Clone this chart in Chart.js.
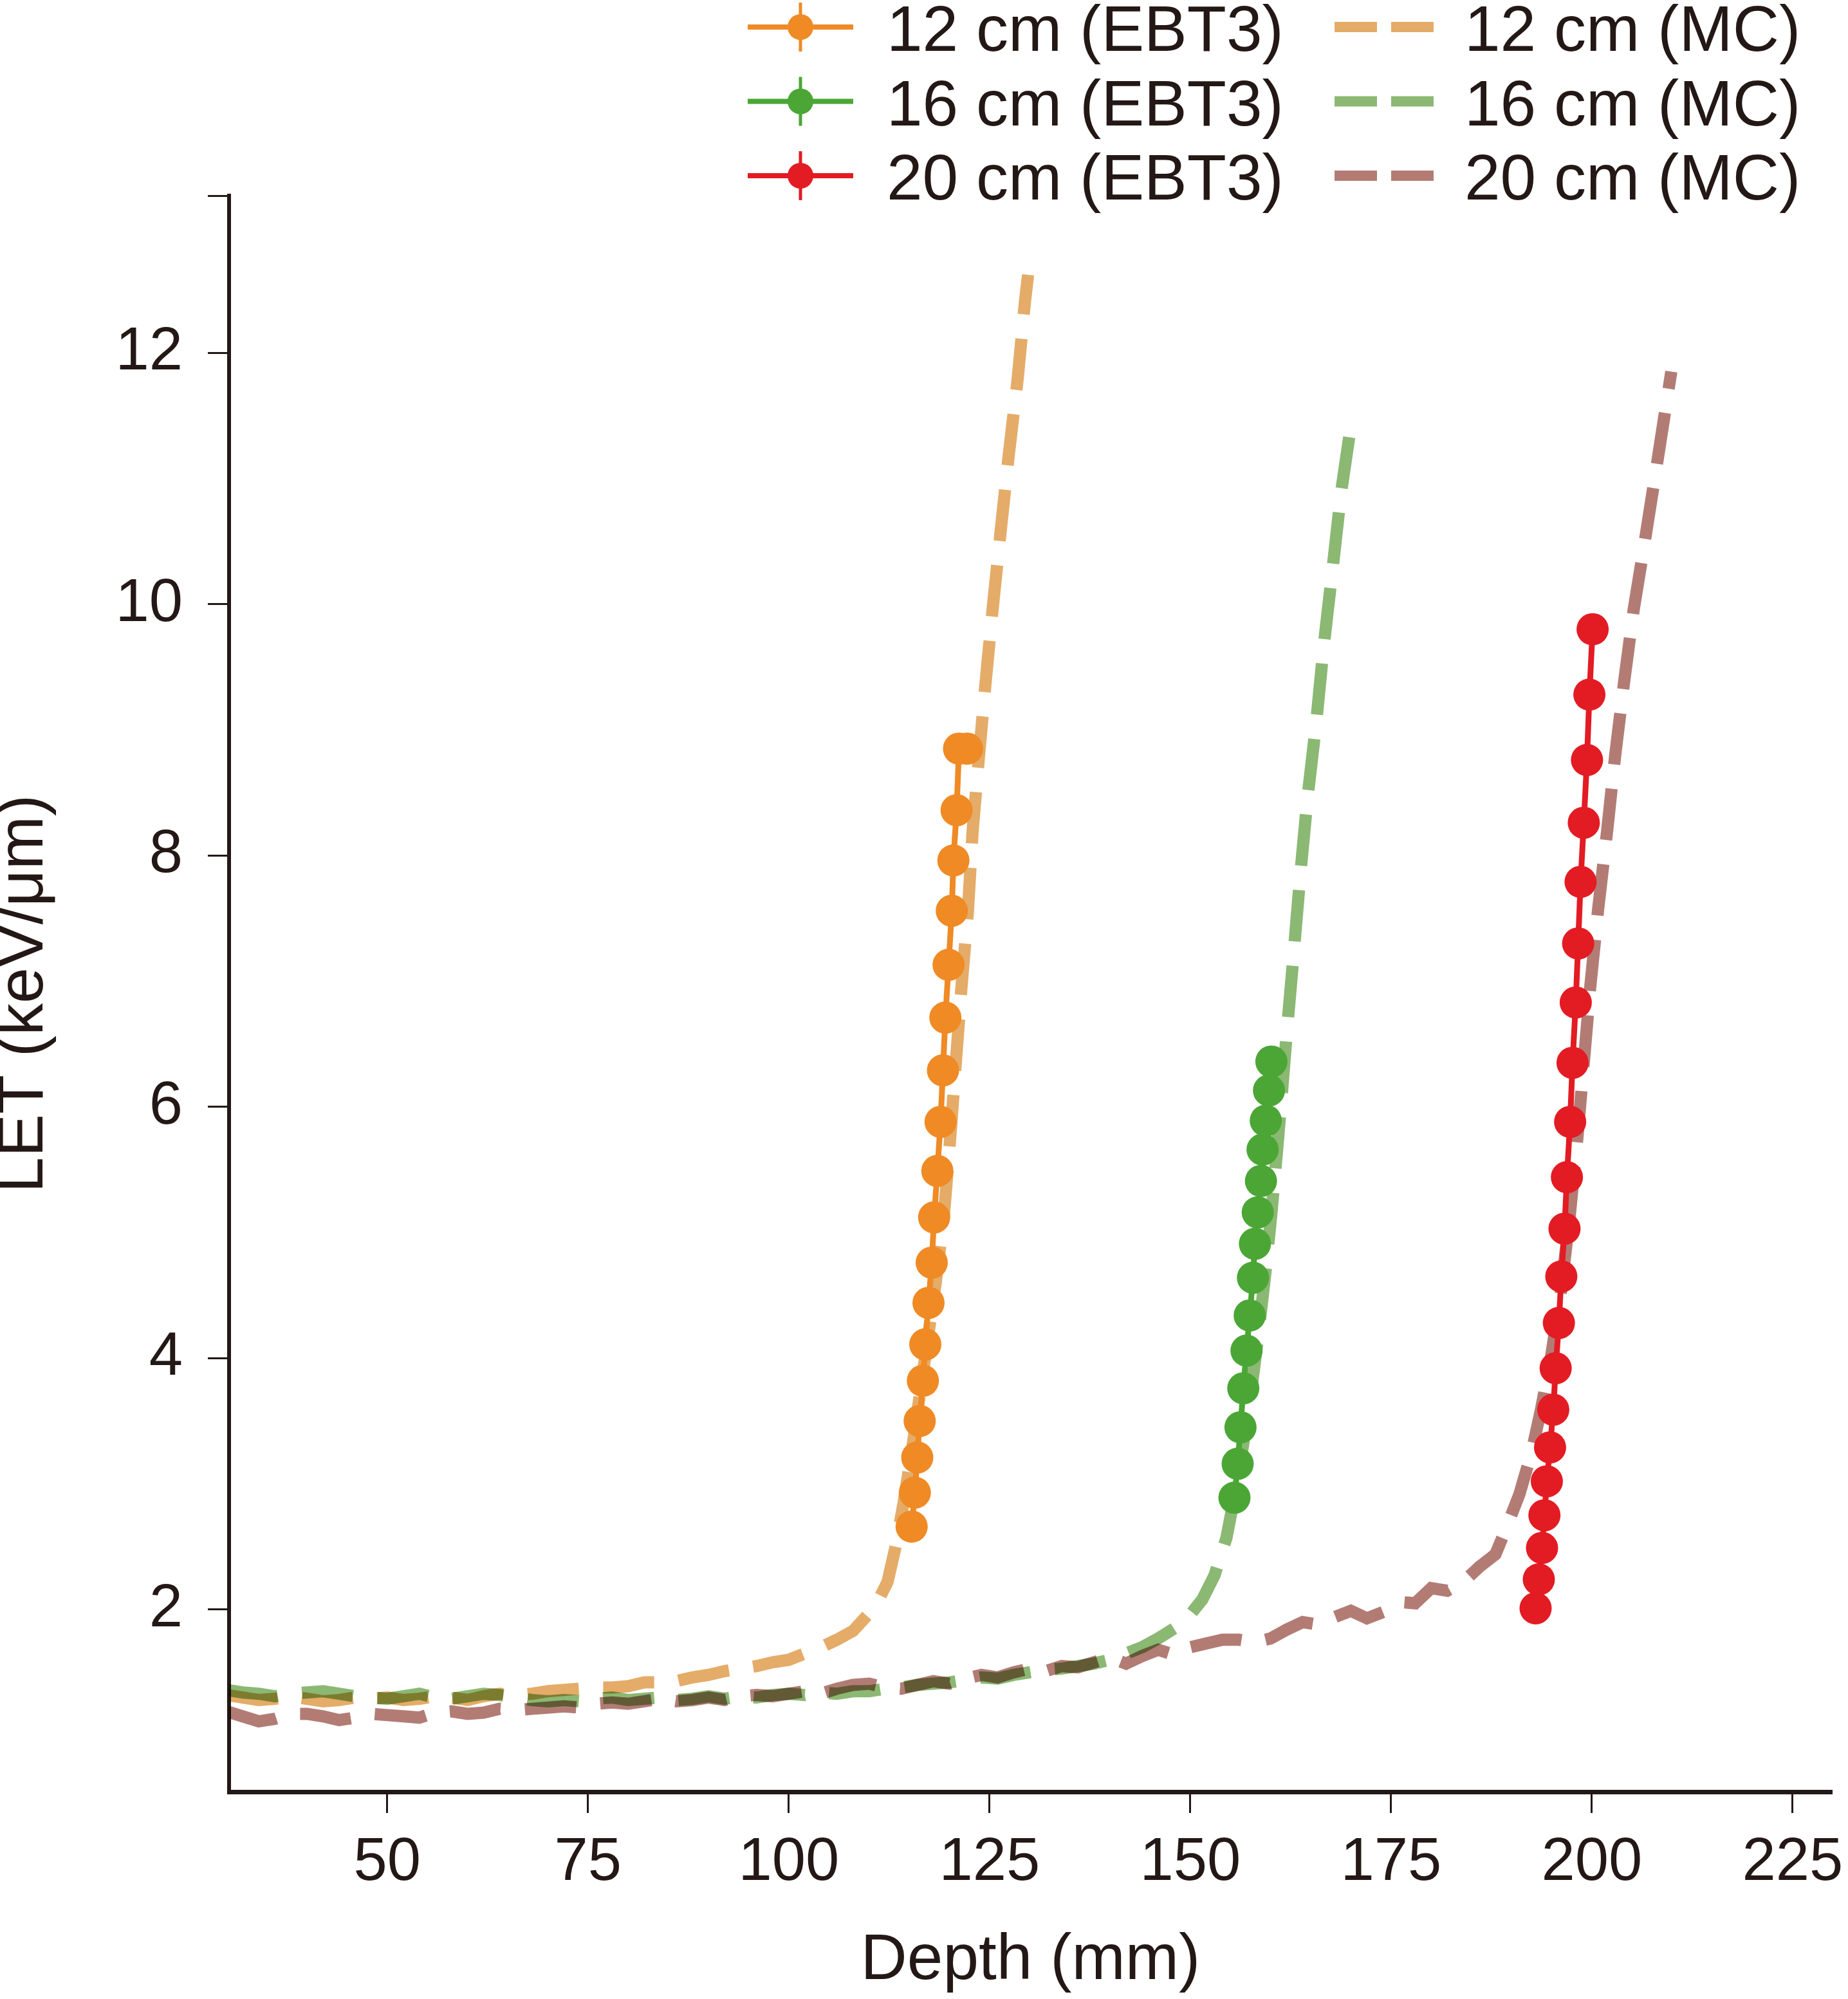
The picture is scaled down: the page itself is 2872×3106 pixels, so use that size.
<!DOCTYPE html>
<html>
<head>
<meta charset="utf-8">
<script src="https://cdn.jsdelivr.net/npm/chart.js@4.4.1/dist/chart.umd.min.js"></script>
<style>
  html, body { margin: 0; padding: 0; background: #fff; }
  #wrap { width: 2872px; height: 3106px; }
</style>
</head>
<body>
<div id="wrap"><canvas id="letChart" width="2872" height="3106"></canvas></div>
<script>
// EBT3 film points (depth in mm, LET in keV/um)
const ebt12Depth = [115.3, 115.7, 116.0, 116.3, 116.7, 117.0, 117.4, 117.8, 118.1, 118.5, 118.9, 119.2, 119.5, 119.9, 120.3, 120.5, 120.9, 121.2, 122.2];
const ebt12Let = [2.66, 2.93, 3.21, 3.50, 3.82, 4.11, 4.44, 4.76, 5.12, 5.49, 5.88, 6.29, 6.71, 7.13, 7.56, 7.96, 8.36, 8.85, 8.85];

const ebt16Depth = [155.5, 155.9, 156.25, 156.6, 157.0, 157.4, 157.8, 158.05, 158.4, 158.8, 159.0, 159.4, 159.8, 160.1];
const ebt16Let = [2.89, 3.16, 3.45, 3.76, 4.06, 4.34, 4.64, 4.91, 5.16, 5.41, 5.66, 5.89, 6.13, 6.36];

const ebt20Depth = [193.0, 193.4, 193.8, 194.1, 194.4, 194.8, 195.2, 195.5, 195.9, 196.2, 196.6, 196.9, 197.3, 197.6, 198.0, 198.3, 198.6, 199.0, 199.4, 199.7, 200.1];
const ebt20Let = [2.01, 2.24, 2.49, 2.75, 3.02, 3.29, 3.59, 3.92, 4.28, 4.65, 5.03, 5.44, 5.88, 6.35, 6.83, 7.30, 7.79, 8.26, 8.76, 9.28, 9.80];

// Monte Carlo curves
const mc12Depth = [30, 32, 34, 36, 38, 40, 42, 44, 46, 48, 50, 52, 54, 56, 58, 60, 62, 64, 66, 68, 70, 72, 74, 76, 78, 80, 82, 84, 86, 88, 90, 92, 94, 96, 98, 100, 102, 104, 106, 108, 110,
  111.2, 112.3, 113.3, 114.3, 115.3, 116.3, 117.3, 118.3, 119.3, 120.1, 120.8, 121.5, 122.3, 122.9, 123.7, 124.5, 125.4, 126.4, 127.4, 128.5, 129.4, 129.8];
const mc12Let = [1.32, 1.30, 1.28, 1.29, 1.31, 1.29, 1.27, 1.28, 1.30, 1.29, 1.30, 1.28, 1.29, 1.31, 1.30, 1.28, 1.31, 1.33, 1.32, 1.33, 1.35, 1.36, 1.37, 1.38, 1.38, 1.39, 1.42, 1.42, 1.43, 1.46, 1.48, 1.51, 1.53, 1.55, 1.58, 1.60, 1.65, 1.70, 1.76, 1.83, 1.97,
  2.08, 2.22, 2.50, 2.85, 3.25, 3.70, 4.15, 4.60, 5.12, 5.75, 6.35, 6.95, 7.55, 8.20, 8.80, 9.37, 9.97, 10.59, 11.19, 11.79, 12.40, 12.62];

const mc16Depth = [30, 32, 34, 36, 38, 40, 42, 44, 46, 48, 50, 52, 54, 56, 58, 60, 62, 64, 66, 68, 70, 72, 74, 76, 78, 80, 82, 84, 86, 88, 90, 92, 94, 96, 98, 100,
  102, 104, 106, 108, 110, 112, 114, 116, 118, 120, 122, 124, 126, 128, 130, 132, 134, 136, 138, 140, 142, 144, 146, 148, 150,
  151.5, 153, 154.5, 155.5, 156.5, 157.5, 158.4, 159.3, 160.1, 160.8, 161.4, 162.0, 162.9, 163.7, 164.6, 165.7, 166.6, 167.7, 168.8, 170.0];
const mc16Let = [1.36, 1.34, 1.33, 1.31, 1.33, 1.34, 1.35, 1.33, 1.31, 1.30, 1.29, 1.31, 1.33, 1.30, 1.29, 1.31, 1.33, 1.32, 1.30, 1.28, 1.27, 1.28, 1.27, 1.29, 1.30, 1.28, 1.29, 1.30, 1.28, 1.29, 1.31, 1.29, 1.31, 1.30, 1.32, 1.33,
  1.32, 1.34, 1.33, 1.35, 1.35, 1.37, 1.38, 1.40, 1.41, 1.42, 1.44, 1.46, 1.45, 1.48, 1.50, 1.52, 1.53, 1.55, 1.57, 1.60, 1.65, 1.70, 1.77, 1.85, 1.96,
  2.08, 2.27, 2.57, 2.90, 3.28, 3.70, 4.15, 4.65, 5.15, 5.65, 6.10, 6.58, 7.24, 7.85, 8.46, 9.07, 9.66, 10.27, 10.90, 11.42];

const mc20Depth = [30, 32, 34, 36, 38, 40, 42, 44, 46, 48, 50, 52, 54, 56, 58, 60, 62, 64, 66, 68, 70, 72, 74, 76, 78, 80, 82, 84, 86, 88,
  90, 92, 94, 96, 98, 100, 102, 104, 106, 108, 110, 112, 114, 116, 118, 120, 122, 124, 126, 128, 130, 132, 134, 136, 138, 140, 142, 144, 146, 148,
  150, 152, 154, 156, 158, 160, 162, 164, 166, 168, 170, 172, 174, 176, 178, 180, 182, 184, 186, 188,
  189.3, 191.0, 192.5, 193.7, 194.9, 196.1, 197.2, 198.2, 199.0, 199.8, 200.8, 201.9, 202.9, 204.0, 205.2, 206.6, 208.2, 209.9];
const mc20Let = [1.19, 1.15, 1.11, 1.13, 1.17, 1.17, 1.15, 1.12, 1.14, 1.17, 1.16, 1.15, 1.14, 1.18, 1.19, 1.17, 1.18, 1.21, 1.20, 1.21, 1.22, 1.23, 1.22, 1.25, 1.26, 1.25, 1.27, 1.29, 1.27, 1.28,
  1.30, 1.28, 1.31, 1.32, 1.31, 1.33, 1.35, 1.33, 1.37, 1.40, 1.41, 1.38, 1.37, 1.40, 1.43, 1.41, 1.45, 1.48, 1.46, 1.50, 1.53, 1.51, 1.55, 1.54, 1.58, 1.62, 1.57, 1.63, 1.68, 1.64,
  1.70, 1.73, 1.76, 1.76, 1.74, 1.77, 1.84, 1.90, 1.88, 1.94, 1.99, 1.93, 1.98, 2.06, 2.05, 2.17, 2.15, 2.22, 2.34, 2.44,
  2.64, 2.92, 3.25, 3.60, 4.00, 4.50, 5.10, 5.75, 6.35, 6.95, 7.58, 8.19, 8.79, 9.37, 9.95, 10.50, 11.15, 11.85];

// axes
const xTicks = [50, 75, 100, 125, 150, 175, 200, 225];
const yTicks = [2, 4, 6, 8, 10, 12];
const xMin = 30.3, xMax = 229.9;
const yMin = 0.55, yMax = 13.25;

const ebtLabels = ["12 cm (EBT3)", "16 cm (EBT3)", "20 cm (EBT3)"];
const mcLabels = ["12 cm (MC)", "16 cm (MC)", "20 cm (MC)"];

const ink = "#231815";
const ebtColors = ["#EF8A25", "#4BA636", "#E31B23"];
const mcColors = ["#E4AC68", "#8BB873", "#B27C75"];
const sans = "'Liberation Sans', Arial, sans-serif";

const toPoints = (xs, ys) => xs.map((x, i) => ({ x: x, y: ys[i] }));

const ebtSets = [[ebt12Depth, ebt12Let], [ebt16Depth, ebt16Let], [ebt20Depth, ebt20Let]].map((d, i) => ({
  label: ebtLabels[i],
  data: toPoints(d[0], d[1]),
  borderColor: ebtColors[i],
  backgroundColor: ebtColors[i],
  borderWidth: 9,
  pointRadius: 25,
  pointHoverRadius: 25,
  pointBorderWidth: 0,
  tension: 0
}));

const mcSets = [[mc12Depth, mc12Let], [mc16Depth, mc16Let], [mc20Depth, mc20Let]].map((d, i) => ({
  label: mcLabels[i],
  data: toPoints(d[0], d[1]),
  borderColor: mcColors[i],
  borderWidth: 19,
  borderDash: [80, 38],
  pointRadius: 0,
  tension: 0,
  mc: true
}));

// white page, MC lines blend like the printed figure
const paper = {
  id: "paper",
  beforeDraw(chart) {
    const ctx = chart.ctx;
    ctx.save();
    ctx.fillStyle = "#fff";
    ctx.fillRect(0, 0, chart.width, chart.height);
    ctx.restore();
  },
  beforeDatasetDraw(chart, args) {
    if (args.meta._dataset.mc) {
      chart.ctx.save();
      chart.ctx.globalCompositeOperation = "multiply";
    }
  },
  afterDatasetDraw(chart, args) {
    if (args.meta._dataset.mc) chart.ctx.restore();
  }
};

const twoColLegend = {
  id: "twoColLegend",
  afterDraw(chart) {
    const ctx = chart.ctx;
    ctx.save();
    ctx.font = "100px " + sans;
    ctx.textAlign = "left";
    ctx.textBaseline = "alphabetic";
    for (let i = 0; i < 3; i++) {
      const base = 79 + i * 115.5;
      const mid = base - 37;
      ctx.strokeStyle = ebtColors[i];
      ctx.lineWidth = 8;
      ctx.beginPath();
      ctx.moveTo(1162, mid);
      ctx.lineTo(1326, mid);
      ctx.stroke();
      ctx.lineWidth = 5;
      ctx.beginPath();
      ctx.moveTo(1244, mid - 38);
      ctx.lineTo(1244, mid + 38);
      ctx.stroke();
      ctx.fillStyle = ebtColors[i];
      ctx.beginPath();
      ctx.arc(1244, mid, 20, 0, Math.PI * 2);
      ctx.fill();

      ctx.fillStyle = mcColors[i];
      ctx.fillRect(2074, mid - 8, 66, 16);
      ctx.fillRect(2162, mid - 8, 66, 16);

      ctx.fillStyle = ink;
      ctx.fillText(ebtLabels[i], 1378, base);
      ctx.fillText(mcLabels[i], 2276, base);
    }
    ctx.restore();
  }
};

const axisGrid = { drawOnChartArea: false, drawTicks: true, tickLength: 33, tickWidth: 3, tickColor: ink };

new Chart(document.getElementById("letChart"), {
  type: "line",
  data: { datasets: ebtSets.concat(mcSets) },
  options: {
    responsive: false,
    animation: false,
    devicePixelRatio: 1,
    layout: { padding: { top: 304, right: 21, left: 0, bottom: 0 } },
    plugins: { legend: { display: false }, tooltip: { enabled: false } },
    scales: {
      x: {
        type: "linear",
        min: xMin,
        max: xMax,
        afterBuildTicks: s => { s.ticks = xTicks.map(v => ({ value: v })); },
        afterFit: s => { s.height = 322; s.paddingLeft = 0; s.paddingRight = 0; },
        grid: axisGrid,
        border: { display: true, color: ink, width: 7 },
        ticks: { color: ink, font: { family: sans, size: 94 }, padding: 22, maxRotation: 0, autoSkip: false },
        title: { display: true, text: "Depth (mm)", color: ink, font: { family: sans, size: 100, lineHeight: 1 }, padding: { top: 0, bottom: 9 } }
      },
      y: {
        type: "linear",
        min: yMin,
        max: yMax,
        afterBuildTicks: s => { s.ticks = yTicks.concat([yMax]).map(v => ({ value: v })); },
        afterFit: s => { s.width = 356; s.paddingTop = 0; s.paddingBottom = 0; },
        grid: axisGrid,
        border: { display: true, color: ink, width: 6 },
        ticks: {
          color: ink,
          font: { family: sans, size: 94 },
          padding: 39,
          autoSkip: false,
          callback: v => (yTicks.includes(v) ? String(v) : "")
        },
        title: { display: true, text: "LET (keV/μm)", color: ink, font: { family: sans, size: 100, lineHeight: 0.76 }, padding: { top: 0, bottom: 0 } }
      }
    }
  },
  plugins: [paper, twoColLegend]
});
</script>
</body>
</html>
